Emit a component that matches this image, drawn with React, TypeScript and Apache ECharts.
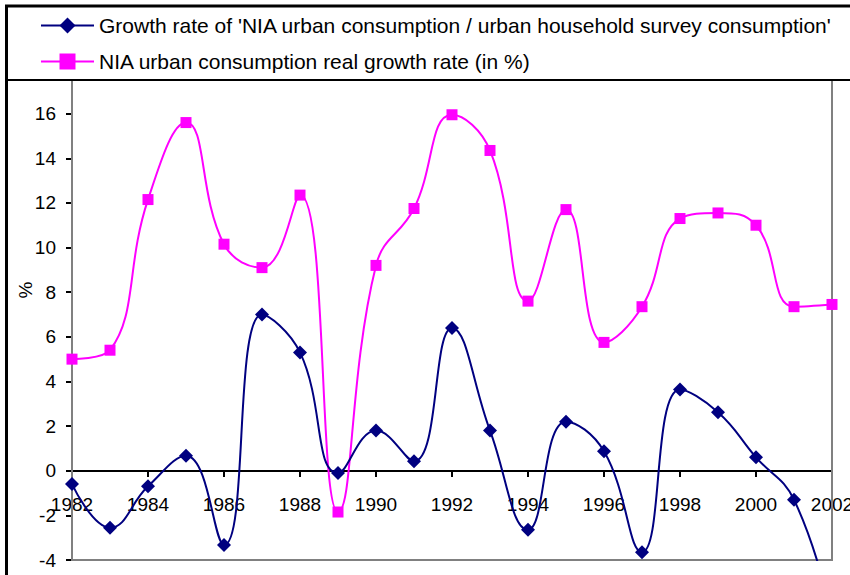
import React, { useEffect, useRef } from "react";
import * as echarts from "echarts";

const years = [1982, 1983, 1984, 1985, 1986, 1987, 1988, 1989, 1990, 1991, 1992, 1993, 1994, 1995, 1996, 1997, 1998, 1999, 2000, 2001, 2002];
const ratioGrowth = [-0.6, -2.55, -0.7, 0.67, -3.33, 7.0, 5.3, -0.1, 1.8, 0.42, 6.4, 1.8, -2.65, 2.2, 0.87, -3.65, 3.64, 2.62, 0.6, -1.3, -6.5];
const niaGrowth = [5.0, 5.4, 12.15, 15.6, 10.15, 9.1, 12.35, -1.85, 9.2, 11.75, 15.95, 14.35, 7.6, 11.7, 5.75, 7.35, 11.3, 11.55, 11.0, 7.35, 7.45];
const seriesNames = [
  "Growth rate of 'NIA urban consumption / urban household survey consumption'",
  "NIA urban consumption real growth rate (in %)",
];
const yAxisName = "%";

export default function App() {
  const ref = useRef<HTMLDivElement>(null);
  useEffect(() => {
    if (!ref.current) return;
    const chart = echarts.init(ref.current, undefined, { renderer: "svg" });
    const font = "'Liberation Sans', Arial, sans-serif";
    chart.setOption({
      animation: false,
      backgroundColor: "#ffffff",
      textStyle: { fontFamily: font },
      grid: {
        left: 72,
        right: 18,
        top: 69,
        bottom: 15,
        containLabel: false,
        outerBoundsMode: "none",
        show: true,
        borderColor: "#808080",
        borderWidth: 2,
        backgroundColor: "transparent",
        z: 1,
      },
      legend: {
        z: 200,
        orient: "vertical",
        left: 35,
        top: 10,
        itemWidth: 53,
        itemHeight: 20,
        itemGap: 15,
        textStyle: { fontSize: 21, color: "#000", fontFamily: font, lineHeight: 20 },
        data: seriesNames,
      },
      xAxis: {
        type: "value",
        min: 1982,
        max: 2002,
        interval: 2,
        position: "bottom",
        offset: -89,
        axisLine: { onZero: false, lineStyle: { color: "#000", width: 2 } },
        axisTick: { show: true, inside: false, length: 6, lineStyle: { color: "#000", width: 2 } },
        axisLabel: { fontSize: 19, color: "#000", margin: 24, formatter: (v: number) => String(v) },
        splitLine: { show: false },
      },
      yAxis: {
        type: "value",
        min: -4,
        max: 18,
        interval: 2,
        axisLine: { show: true, onZero: false, lineStyle: { color: "#000", width: 2 } },
        axisTick: { show: true, inside: false, length: 6, lineStyle: { color: "#000", width: 2 } },
        axisLabel: { fontSize: 19, color: "#000", margin: 16, showMaxLabel: false },
        splitLine: { show: false },
      },
      graphic: [
        {
          type: "rect",
          z: 100,
          shape: { x: 0, y: 0, width: 850, height: 80 },
          style: { fill: "#ffffff" },
        },
        {
          type: "line",
          z: 101,
          shape: { x1: 5, y1: 6, x2: 850, y2: 6 },
          style: { stroke: "#000", lineWidth: 3 },
        },
        {
          type: "line",
          z: 101,
          shape: { x1: 5, y1: 80, x2: 850, y2: 80 },
          style: { stroke: "#000", lineWidth: 2 },
        },
        {
          type: "line",
          z: 101,
          shape: { x1: 6.5, y1: 5, x2: 6.5, y2: 575 },
          style: { stroke: "#000", lineWidth: 3 },
        },
        {
          type: "text",
          z: 101,
          x: 25,
          y: 290,
          rotation: Math.PI / 2,
          style: { text: yAxisName, fontSize: 19, fill: "#000", align: "center", verticalAlign: "middle", fontFamily: font },
        },
      ],
      series: [
        {
          name: seriesNames[0],
          type: "line",
          smooth: 0.45,
          symbol: "diamond",
          symbolSize: 14,
          clip: true,
          itemStyle: { color: "#000080" },
          lineStyle: { color: "#000080", width: 2 },
          data: years.map((y, i) => [y, ratioGrowth[i]]),
          z: 3,
        },
        {
          name: seriesNames[1],
          type: "line",
          smooth: 0.45,
          symbol: "rect",
          symbolSize: 11,
          clip: true,
          itemStyle: { color: "#ff00ff" },
          lineStyle: { color: "#ff00ff", width: 2 },
          data: years.map((y, i) => [y, niaGrowth[i]]),
          z: 2,
        },
      ],
    });
    return () => chart.dispose();
  }, []);
  return <div ref={ref} style={{ position: "fixed", left: 0, top: 0, width: 850, height: 575 }} />;
}
